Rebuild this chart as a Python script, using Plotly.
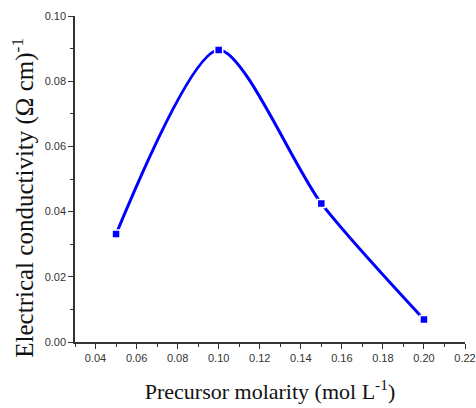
import plotly.graph_objects as go

molarity = [0.05, 0.10, 0.15, 0.20]
conductivity = [0.0331, 0.0896, 0.0425, 0.0069]

x_ticks = [0.04, 0.06, 0.08, 0.10, 0.12, 0.14, 0.16, 0.18, 0.20, 0.22]
x_tick_labels = ["0.04", "0.06", "0.08", "0.10", "0.12", "0.14", "0.16", "0.18", "0.20", "0.22"]
y_ticks = [0.00, 0.02, 0.04, 0.06, 0.08, 0.10]
y_tick_labels = ["0.00", "0.02", "0.04", "0.06", "0.08", "0.10"]

x_title = "Precursor molarity (mol L<sup>-1</sup>)"
y_title = "Electrical conductivity (Ω cm)<sup>-1</sup>"

fig = go.Figure()
fig.add_trace(go.Scatter(
    x=molarity, y=conductivity, mode="lines+markers",
    line=dict(color="#0000ff", width=3, shape="spline", smoothing=0.75),
    marker=dict(symbol="square", size=8, color="#0000ff", line=dict(color="white", width=1.5)),
    showlegend=False,
))

axis_common = dict(
    showline=True, linecolor="#333333", linewidth=1.5,
    ticks="outside", ticklen=5, tickwidth=1.2, tickcolor="#333333",
    showgrid=False, zeroline=False, mirror=False, automargin=False,
    tickfont=dict(family="Liberation Sans, Arial, sans-serif", size=11, color="#333333"),
    minor=dict(ticks="outside", ticklen=3, tickwidth=1.2, tickcolor="#333333", dtick=0.01, showgrid=False),
)

fig.update_xaxes(
    range=[0.03, 0.22], tickvals=x_ticks, ticktext=x_tick_labels,
    title=dict(text=x_title,
               font=dict(family="Liberation Serif, Times New Roman, serif", size=22, color="#111111"),
               standoff=21),
    **axis_common,
)
fig.update_yaxes(
    range=[0.0, 0.10], tickvals=y_ticks, ticktext=y_tick_labels,
    **axis_common,
)

fig.add_annotation(
    text=y_title, xref="paper", yref="paper", x=-0.133, y=0.443,
    xanchor="center", yanchor="middle", textangle=-90, showarrow=False,
    font=dict(family="Liberation Serif, Times New Roman, serif", size=25, color="#111111"),
)

fig.update_layout(
    width=476, height=408,
    margin=dict(l=75, r=11, t=16, b=66),
    plot_bgcolor="white", paper_bgcolor="white",
)

fig.write_html("out.html", config={"displayModeBar": False},
               post_script="document.body.style.margin='0';")
